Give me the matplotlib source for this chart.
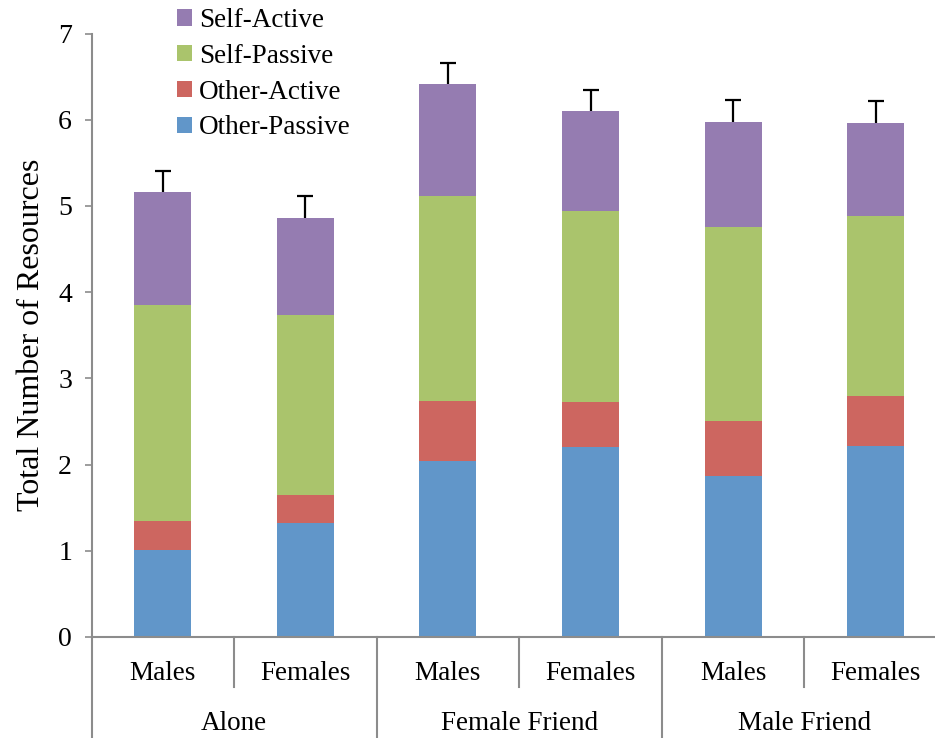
import numpy as np
import matplotlib
matplotlib.use("Agg")
import matplotlib.pyplot as plt

# values
groups = ["Alone", "Female Friend", "Male Friend"]
sexes = ["Males", "Females", "Males", "Females", "Males", "Females"]
other_passive = [1.01, 1.32, 2.04, 2.20, 1.87, 2.22]
other_active = [0.34, 0.33, 0.70, 0.53, 0.63, 0.57]
self_passive = [2.50, 2.08, 2.38, 2.21, 2.25, 2.09]
self_active = [1.31, 1.13, 1.29, 1.16, 1.22, 1.08]
errors = [0.25, 0.26, 0.25, 0.25, 0.26, 0.26]

series = [
    ("Other-Passive", other_passive, "#6196C9"),
    ("Other-Active", other_active, "#CD6660"),
    ("Self-Passive", self_passive, "#AAC46C"),
    ("Self-Active", self_active, "#957CB1"),
]

plt.rcParams["font.family"] = ["Liberation Serif", "DejaVu Serif"]
plt.rcParams["font.size"] = 19

W, H = 935, 738
fig = plt.figure(figsize=(W / 100, H / 100), dpi=100)
left, right, bottom, top = 91.5, 935, 637, 33.5
ax = fig.add_axes([left / W, (H - bottom) / H, (right - left) / W, (bottom - top) / H])

x = np.arange(len(sexes))
base = np.zeros(len(sexes))
handles = []
for name, vals, color in series:
    b = ax.bar(x, vals, width=0.4, bottom=base, color=color, label=name, zorder=2)
    handles.append(b)
    base = base + np.array(vals)

# upward-only error bars
_, caps, _ = ax.errorbar(x, base, yerr=[np.zeros(len(errors)), errors], fmt="none",
                         ecolor="black", elinewidth=1.6, capsize=6, capthick=1.6, zorder=3)
caps[0].set_visible(False)

gray = "#8C8C8C"
ax.set_ylim(0, 7)
ax.set_xlim(-0.5, 5.5 - (947 - 935) / 142.6)
ax.set_yticks(range(0, 8))
ax.tick_params(axis="y", direction="out", length=5, width=1.2, color=gray, pad=9, labelsize=20)
ax.set_xticks([])
for s in ["top", "right"]:
    ax.spines[s].set_visible(False)
for s in ["left", "bottom"]:
    ax.spines[s].set_color(gray)
    ax.spines[s].set_linewidth(1.5)
ax.set_ylabel("Total Number of Resources", fontsize=23, labelpad=9)

# two-level category axis
trans = ax.get_xaxis_transform()
to_ax = lambda p: (bottom - p) / (bottom - top)
for i, lab in enumerate(sexes):
    ax.text(x[i], to_ax(680), lab, transform=trans, ha="center", va="baseline", fontsize=19.5)
for i in range(1, 6):
    y_end = to_ax(H) if i % 2 == 0 else to_ax(687)
    ax.plot([i - 0.5, i - 0.5], [0, y_end], transform=trans, color=gray, lw=1.5, clip_on=False)
ax.plot([-0.5, -0.5], [0, to_ax(H)], transform=trans, color=gray, lw=1.5, clip_on=False)
for j, g in enumerate(groups):
    ax.text(2 * j + 0.5, to_ax(730), g, transform=trans, ha="center", va="baseline", fontsize=19.5)

fig.legend(handles[::-1], [s[0] for s in series][::-1], loc="upper left",
           bbox_to_anchor=(177 / W, 1 - 8 / H), frameon=False, fontsize=19.5,
           handlelength=0.55, handleheight=0.55, handletextpad=0.25, labelspacing=0.4,
           borderaxespad=0, borderpad=0)

fig.savefig("out.png", dpi=100)
